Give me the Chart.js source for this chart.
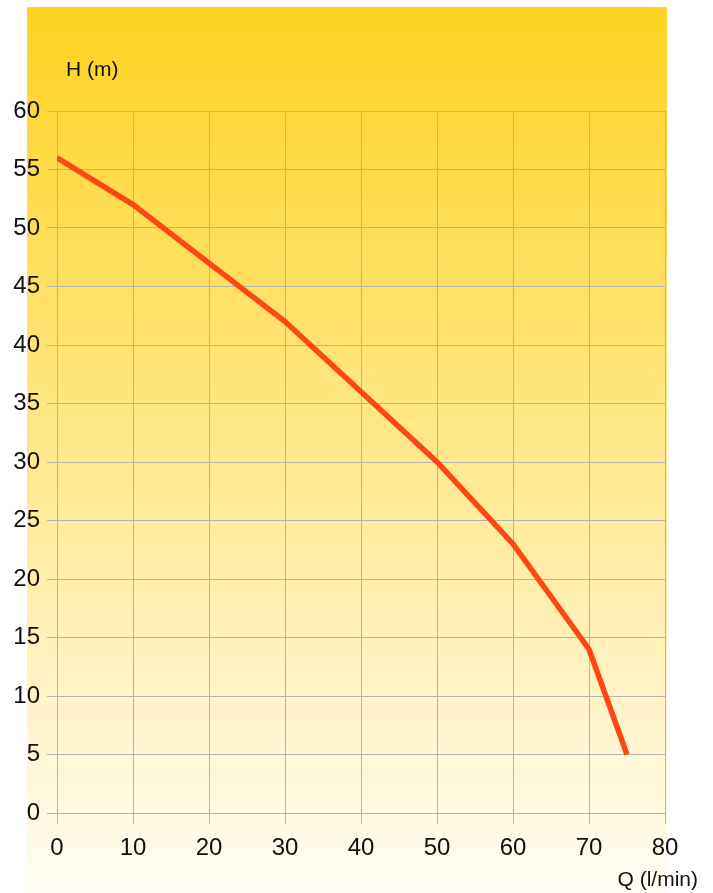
<!DOCTYPE html>
<html>
<head>
<meta charset="utf-8">
<script src="https://cdn.jsdelivr.net/npm/chart.js@4"></script>
<style>
html,body{margin:0;padding:0;background:#fff;}
#wrap{width:713px;height:893px;position:relative;}
</style>
</head>
<body>
<div id="wrap"><canvas id="c" width="713" height="893"></canvas></div>
<script>
const flowValues = [0, 10, 20, 30, 40, 50, 60, 70, 75];
const headValues = [56, 52, 47, 42, 36, 30, 23, 14, 5];
const xTickValues = [0, 10, 20, 30, 40, 50, 60, 70, 80];
const yTickValues = [0, 5, 10, 15, 20, 25, 30, 35, 40, 45, 50, 55, 60];
const yAxisTitle = 'H (m)';
const xAxisTitle = 'Q (l/min)';

const FONT = '"Liberation Sans", Arial, sans-serif';

const bgPlugin = {
  id: 'bg',
  beforeDraw(chart) {
    const ctx = chart.ctx;
    const g = ctx.createLinearGradient(0, 7, 0, 893);
    g.addColorStop(0, '#ffd320');
    g.addColorStop(1, '#fffdf5');
    ctx.save();
    ctx.fillStyle = g;
    ctx.fillRect(27, 7, 640, 886);
    ctx.restore();
  },
  afterDraw(chart) {
    const ctx = chart.ctx;
    ctx.save();
    ctx.fillStyle = '#111';
    ctx.font = '21px ' + FONT;
    ctx.textBaseline = 'alphabetic';
    ctx.textAlign = 'left';
    ctx.fillText(yAxisTitle, 66, 76);
    ctx.textAlign = 'right';
    ctx.fillText(xAxisTitle, 698, 886);
    ctx.restore();
  }
};

new Chart(document.getElementById('c'), {
  type: 'line',
  data: {
    datasets: [{
      data: flowValues.map((x, i) => ({x: x, y: headValues[i]})),
      borderColor: '#ff4713',
      borderWidth: 5.5,
      pointRadius: 0,
      tension: 0,
      fill: false
    }]
  },
  options: {
    responsive: false,
    animation: false,
    layout: {padding: {left: 0, right: 48, top: 111, bottom: 0}},
    plugins: {legend: {display: false}, tooltip: {enabled: false}},
    scales: {
      x: {
        type: 'linear',
        min: 0, max: 80,
        afterBuildTicks(axis) { axis.ticks = xTickValues.map(v => ({value: v})); },
        afterFit(axis) { axis.height = 80; },
        grid: {color: '#b3b3b3', lineWidth: 1, tickLength: 11, drawTicks: true},
        border: {display: false},
        ticks: {color: '#111', font: {family: FONT, size: 24}, padding: 10, maxRotation: 0}
      },
      y: {
        type: 'linear',
        min: 0, max: 60,
        afterBuildTicks(axis) { axis.ticks = yTickValues.map(v => ({value: v})); },
        afterFit(axis) { axis.width = 57; },
        grid: {color: '#b3b3b3', lineWidth: 1, tickLength: 10, drawTicks: true},
        border: {display: false},
        ticks: {color: '#111', font: {family: FONT, size: 24}, padding: 7}
      }
    }
  },
  plugins: [bgPlugin]
});
</script>
</body>
</html>
